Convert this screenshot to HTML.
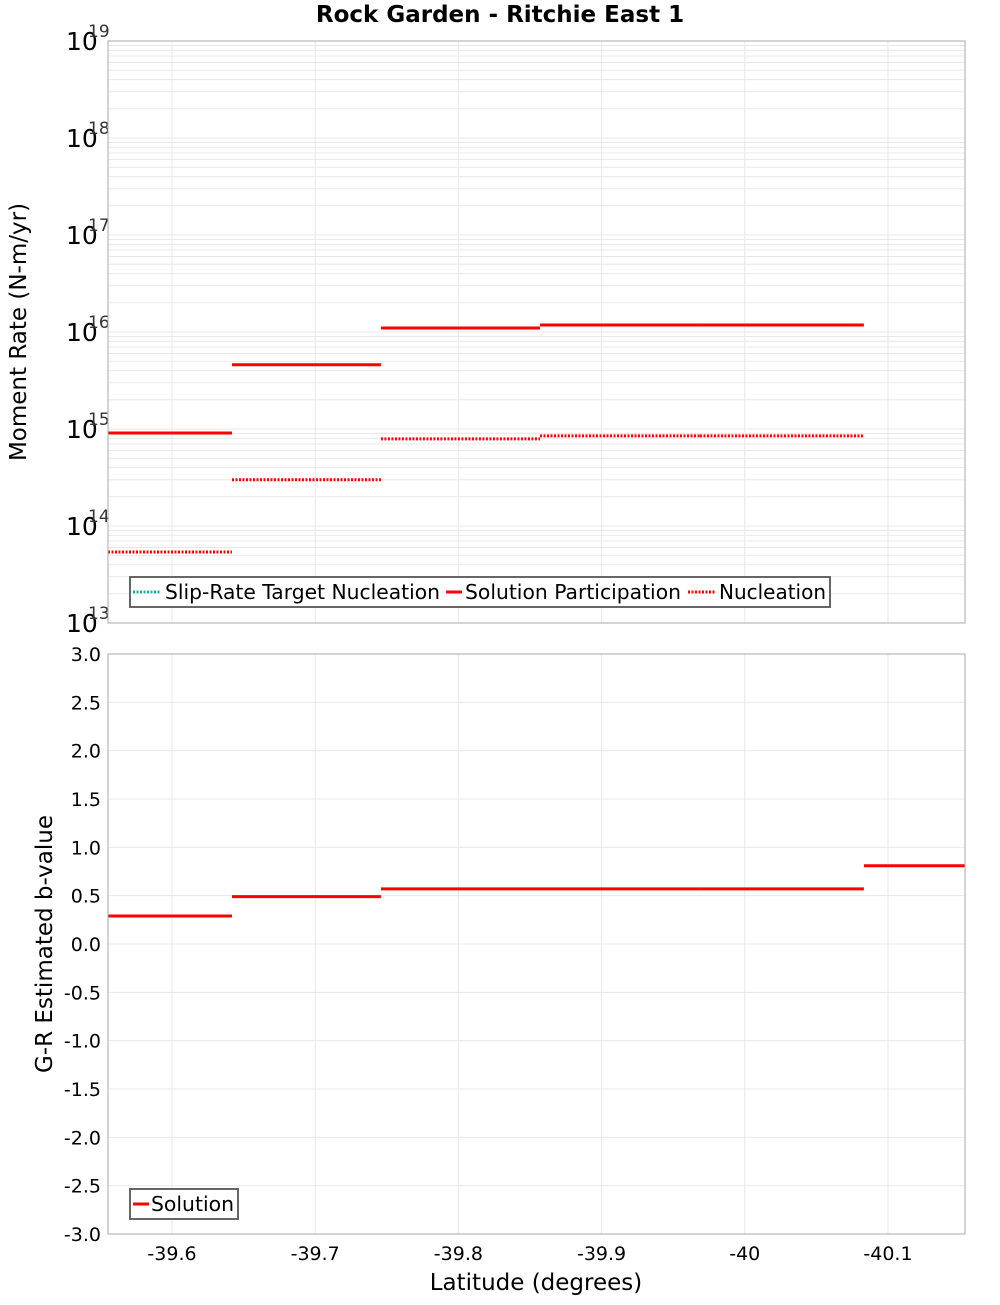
<!DOCTYPE html>
<html><head><meta charset="utf-8"><style>
body{margin:0;background:#fff}
svg{font-family:"DejaVu Sans","Liberation Sans",sans-serif}
</style></head><body>
<svg id="c" width="1000" height="1300" xmlns="http://www.w3.org/2000/svg">
<text x="500" y="22" text-anchor="middle" font-size="23" font-weight="bold">Rock Garden - Ritchie East 1</text>
<g id="g1"></g>
<g id="g2"></g>
<text transform="translate(26,332) rotate(-90)" text-anchor="middle" font-size="23">Moment Rate (N-m/yr)</text>
<text transform="translate(52,944) rotate(-90)" text-anchor="middle" font-size="23">G-R Estimated b-value</text>
<text x="536" y="1290" text-anchor="middle" font-size="23">Latitude (degrees)</text>
</svg>
<script>
const boundaries=[-39.5553,-39.6419,-39.7459,-39.857,-39.9687,-40.0832,-40.1538];
const participation=[9.1e14,4.6e15,1.1e16,1.18e16,1.18e16,null];
const nucleation=[5.4e13,3.0e14,7.9e14,8.5e14,8.5e14,null];
const bvalues=[0.29,0.49,0.57,0.57,0.57,0.81];
const xTicks=[-39.6,-39.7,-39.8,-39.9,-40,-40.1];
const xTickLabels=["-39.6","-39.7","-39.8","-39.9","-40","-40.1"];
const bTicks=[-3,-2.5,-2,-1.5,-1,-0.5,0,0.5,1,1.5,2,2.5,3];
const decades=[13,14,15,16,17,18,19];

const NS="http://www.w3.org/2000/svg";
const L=108,R=965,T1=41,B1=623,T2=654,B2=1234;
const X0=-39.5553,X1=-40.1538;
const xs=v=>L+(v-X0)/(X1-X0)*(R-L);
const ys1=v=>B1-(Math.log10(v)-13)/6*(B1-T1);
const ys2=v=>B2-(v+3)/6*(B2-T2);
function mk(p,t,a){const e=document.createElementNS(NS,t);for(const k in a)e.setAttribute(k,a[k]);p.appendChild(e);return e;}
const g1=document.getElementById('g1'),g2=document.getElementById('g2');

for(let d=13;d<19;d++)for(let m=1;m<10;m++){const y=ys1(m*Math.pow(10,d));
 const ln=mk(g1,'line',{x1:L,x2:R,y1:y,y2:y,stroke:'#e8e8e8','stroke-width':1});
 
 }
for(const v of xTicks){for(const [g,t,b] of [[g1,T1,B1],[g2,T2,B2]]){
 const ln=mk(g,'line',{x1:xs(v),x2:xs(v),y1:t,y2:b,stroke:'#e8e8e8','stroke-width':1});
 
 }}
for(const v of bTicks){const y=ys2(v);
 const ln=mk(g2,'line',{x1:L,x2:R,y1:y,y2:y,stroke:'#e8e8e8','stroke-width':1});
 
 
 const t=mk(g2,'text',{x:101,y:y+7,'text-anchor':'end','font-size':19});t.textContent=v.toFixed(1);
 
 }
for(const d of decades){const y=ys1(Math.pow(10,d));
 const t=mk(g1,'text',{x:66,y:y+9,'font-size':25});t.textContent='10';
 
 
 const s=mk(g1,'text',{x:88,y:y-4,'font-size':17,fill:'#333'});s.textContent=String(d);
 
 }
xTicks.forEach((v,i)=>{const t=mk(g2,'text',{x:xs(v),y:1260,'text-anchor':'middle','font-size':19});t.textContent=xTickLabels[i];
 
 });

for(let i=0;i<6;i++){const xa=xs(boundaries[i]),xb=xs(boundaries[i+1]);
 if(participation[i]!=null){const y=ys1(participation[i]);
  const l=mk(g1,'line',{x1:xa,x2:xb,y1:y,y2:y,stroke:'#f00','stroke-width':3});
  
  }
 if(nucleation[i]!=null){const y=ys1(nucleation[i]);
  const l=mk(g1,'line',{x1:xa,x2:xb,y1:y,y2:y,stroke:'#f00','stroke-width':3,'stroke-dasharray':'2,1.5'});
  
  }
 const y=ys2(bvalues[i]);
 const l=mk(g2,'line',{x1:xa,x2:xb,y1:y,y2:y,stroke:'#f00','stroke-width':3});
 
 }

const f1=mk(g1,'rect',{x:L,y:T1,width:R-L,height:B1-T1,fill:'none',stroke:'#aaa'});


const f2=mk(g2,'rect',{x:L,y:T2,width:R-L,height:B2-T2,fill:'none',stroke:'#aaa'});



const lg1=mk(g1,'g',{});


mk(lg1,'rect',{x:130,y:577,width:700,height:30,fill:'#fff',stroke:'#666','stroke-width':2});
mk(lg1,'line',{x1:133,x2:161,y1:592,y2:592,stroke:'#1aabab','stroke-width':3,'stroke-dasharray':'2,1.5'});
let t=mk(lg1,'text',{x:165,y:599,'font-size':20,textLength:275,lengthAdjust:'spacingAndGlyphs'});t.textContent='Slip-Rate Target Nucleation';


mk(lg1,'line',{x1:446,x2:462,y1:592,y2:592,stroke:'#f00','stroke-width':3});
t=mk(lg1,'text',{x:465,y:599,'font-size':20,textLength:216,lengthAdjust:'spacingAndGlyphs'});t.textContent='Solution Participation';


mk(lg1,'line',{x1:688,x2:716,y1:592,y2:592,stroke:'#f00','stroke-width':3,'stroke-dasharray':'2,1.5'});
t=mk(lg1,'text',{x:719,y:599,'font-size':20,textLength:107,lengthAdjust:'spacingAndGlyphs'});t.textContent='Nucleation';


const lg2=mk(g2,'g',{});


mk(lg2,'rect',{x:130,y:1189,width:108,height:30,fill:'#fff',stroke:'#666','stroke-width':2});
mk(lg2,'line',{x1:133,x2:149,y1:1204,y2:1204,stroke:'#f00','stroke-width':3});
t=mk(lg2,'text',{x:151,y:1211,'font-size':20,textLength:83,lengthAdjust:'spacingAndGlyphs'});t.textContent='Solution';


</script>
</body></html>
